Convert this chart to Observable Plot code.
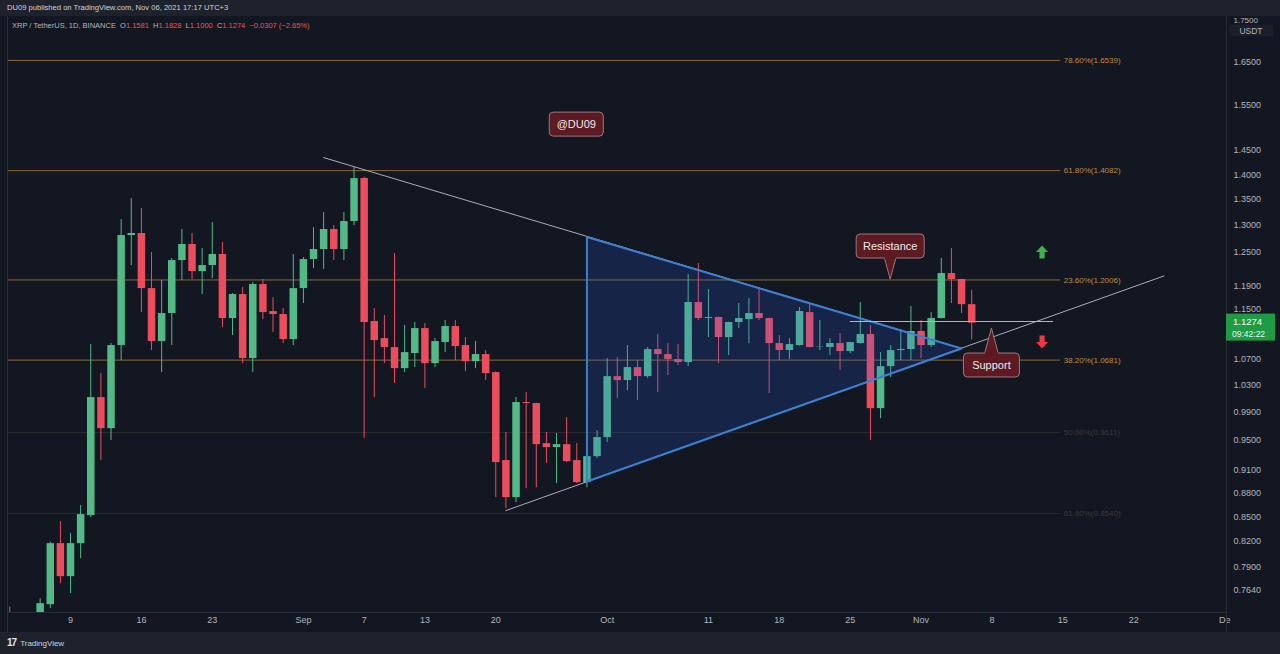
<!DOCTYPE html>
<html><head><meta charset="utf-8">
<script src="https://cdn.jsdelivr.net/npm/d3@7"></script>
<script src="https://cdn.jsdelivr.net/npm/@observablehq/plot@0.6"></script>
<style>
html,body{margin:0;padding:0;background:#131722;width:1280px;height:654px;overflow:hidden;font-family:"Liberation Sans",Arial,sans-serif;}
#page{position:relative;width:1280px;height:654px;background:#131722;}
#top{position:absolute;left:0;top:0;width:1280px;height:16px;background:#1e222d;color:#d1d4dc;font-size:7.6px;line-height:16px;padding-left:7px;box-sizing:border-box;white-space:nowrap;}
#chart{position:absolute;left:0;top:16px;}
#legend{position:absolute;left:12px;top:21px;font-size:7.5px;color:#b2b5be;white-space:nowrap;}
#legend .v{color:#ef5350;}
#foot{position:absolute;left:0;top:632px;width:1280px;height:22px;background:#1e222d;color:#d1d4dc;font-size:8px;line-height:22px;}
#foot b{font-size:10px;letter-spacing:-1px;margin-left:7px;margin-right:4px;color:#e0e3eb;}
#border{position:absolute;left:7px;top:16px;width:1px;height:616px;background:#2a2e39;}
</style></head>
<body><div id="page">
<div id="top">DU09 published on TradingView.com, Nov 06, 2021 17:17 UTC+3</div>
<div id="chart"></div>
<div id="border"></div>
<div id="legend"></div>
<div id="foot"><b>17</b>TradingView</div>
</div>
<script>
const dates = [
"2021-08-03","2021-08-04","2021-08-05","2021-08-06","2021-08-07","2021-08-08","2021-08-09","2021-08-10","2021-08-11","2021-08-12","2021-08-13","2021-08-14","2021-08-15","2021-08-16","2021-08-17","2021-08-18","2021-08-19","2021-08-20","2021-08-21","2021-08-22","2021-08-23","2021-08-24","2021-08-25","2021-08-26","2021-08-27","2021-08-28","2021-08-29","2021-08-30","2021-08-31",
"2021-09-01","2021-09-02","2021-09-03","2021-09-04","2021-09-05","2021-09-06","2021-09-07","2021-09-08","2021-09-09","2021-09-10","2021-09-11","2021-09-12","2021-09-13","2021-09-14","2021-09-15","2021-09-16","2021-09-17","2021-09-18","2021-09-19","2021-09-20","2021-09-21","2021-09-22","2021-09-23","2021-09-24","2021-09-25","2021-09-26","2021-09-27","2021-09-28","2021-09-29","2021-09-30",
"2021-10-01","2021-10-02","2021-10-03","2021-10-04","2021-10-05","2021-10-06","2021-10-07","2021-10-08","2021-10-09","2021-10-10","2021-10-11","2021-10-12","2021-10-13","2021-10-14","2021-10-15","2021-10-16","2021-10-17","2021-10-18","2021-10-19","2021-10-20","2021-10-21","2021-10-22","2021-10-23","2021-10-24","2021-10-25","2021-10-26","2021-10-27","2021-10-28","2021-10-29","2021-10-30","2021-10-31",
"2021-11-01","2021-11-02","2021-11-03","2021-11-04","2021-11-05","2021-11-06"];
const open = [
0.7280,0.7120,0.7250,0.7300,0.7476,0.8172,0.7788,0.8172,0.8513,1.0113,0.9665,1.0910,1.2810,1.2848,1.1856,1.0974,1.1432,1.2351,1.2643,1.2154,1.2261,1.2460,1.1349,1.1753,1.0705,1.1926,1.1465,1.1415,1.1006,
1.1856,1.2369,1.2551,1.2923,1.2551,1.3074,1.3919,1.1299,1.1022,1.0878,1.0549,1.0784,1.1184,1.0627,1.0958,1.1217,1.0910,1.0658,1.0768,1.0488,0.9225,0.8740,1.0040,1.0025,0.9456,0.9401,0.9442,0.9225,0.8933,0.9278,
0.9539,1.0427,1.0367,1.0565,1.0427,1.0847,1.0768,1.0690,1.0643,1.1617,1.1349,1.1366,1.1038,1.1283,1.1332,1.1432,1.1349,1.0942,1.0831,1.0910,1.1448,1.0890,1.0879,1.0942,1.0815,1.0942,1.1087,0.9951,1.0580,1.0831,1.0847,
1.1136,1.0910,1.1349,1.2119,1.2014,1.1581];
const high = [
0.7450,0.7360,0.7380,0.7540,0.8190,0.8439,0.8292,0.8638,1.0926,1.0473,1.0942,1.3111,1.3519,1.3323,1.2496,1.1996,1.2387,1.2923,1.2848,1.2570,1.3055,1.2680,1.1770,1.1874,1.1961,1.2014,1.1702,1.1516,1.2460,
1.2405,1.2959,1.3247,1.2998,1.3247,1.4146,1.3950,1.1516,1.1398,1.2478,1.1233,1.1283,1.1266,1.1022,1.1316,1.1316,1.1038,1.0974,1.0831,1.0500,0.9610,1.0113,1.0187,1.0030,0.9610,0.9596,0.9822,0.9456,0.9951,0.9638,
1.0705,1.0721,1.0910,1.0674,1.0878,1.1087,1.0942,1.0926,1.2101,1.2297,1.1839,1.1380,1.1290,1.1600,1.1685,1.1874,1.1355,1.1071,1.1022,1.1533,1.1600,1.1316,1.1022,1.1103,1.0965,1.1617,1.1233,1.0799,1.0910,1.1168,1.1550,
1.1316,1.1448,1.2387,1.2568,1.2020,1.1828];
const low = [
0.7050,0.7000,0.7050,0.7200,0.7432,0.7709,0.7598,0.7995,0.8488,0.9225,0.9498,1.0674,1.2261,1.1448,1.0831,1.0488,1.0910,1.1996,1.2014,1.1753,1.2031,1.1201,1.1071,1.0627,1.0488,1.1332,1.1120,1.0942,1.0910,
1.1600,1.2207,1.2189,1.2351,1.2351,1.2998,0.9526,1.0113,1.0627,1.0322,1.0488,1.0565,1.0246,1.0565,1.0799,1.0674,1.0504,1.0549,1.0367,0.8740,0.8600,0.8677,0.8854,0.8867,0.9185,0.8920,0.9198,0.8920,0.8867,0.9250,
0.9470,1.0098,1.0217,1.0069,1.0397,1.0187,1.0443,1.0596,1.0580,1.1316,1.1038,1.0627,1.0752,1.1184,1.0942,1.1316,1.0172,1.0674,1.0690,1.0900,1.0870,1.0831,1.0752,1.0519,1.0783,1.0935,0.9498,0.9807,1.0412,1.0674,1.0674,
1.0705,1.0879,1.1340,1.1600,1.1432,1.1000];
const close = [
0.7120,0.7250,0.7300,0.7487,0.8172,0.7788,0.8172,0.8526,1.0113,0.9665,1.0910,1.2810,1.2848,1.1856,1.0974,1.1432,1.2351,1.2643,1.2154,1.2261,1.2460,1.1349,1.1753,1.0705,1.1926,1.1448,1.1415,1.1006,1.1856,
1.2369,1.2551,1.2923,1.2551,1.3074,1.3919,1.1283,1.0990,1.0878,1.0549,1.0799,1.1184,1.0627,1.0974,1.1217,1.0894,1.0658,1.0768,1.0473,0.9198,0.8740,1.0040,1.0025,0.9442,0.9401,0.9442,0.9211,0.8933,0.9278,0.9539,
1.0427,1.0367,1.0565,1.0427,1.0847,1.0768,1.0690,1.0643,1.1617,1.1349,1.1366,1.1038,1.1283,1.1349,1.1432,1.1349,1.0942,1.0831,1.0926,1.1465,1.0879,1.0895,1.0942,1.0815,1.0958,1.1087,0.9951,1.0580,1.0831,1.0847,1.1136,
1.0910,1.1349,1.2119,1.2014,1.1581,1.1274];

const fibLevels = [1.6539, 1.4082, 1.2006, 1.0681];
const fibLabels = ["78.60%(1.6539)", "61.80%(1.4082)", "23.60%(1.2006)", "38.20%(1.0681)"];
const fibFaintLevels = [0.9611, 0.8540];
const fibFaintLabels = ["50.00%(0.9611)", "61.80%(0.8540)"];
const fibStart = "2021-08-02T21:00Z";
const fibEnd = "2021-11-14T19:00Z";

const yTicks = [1.65, 1.55, 1.45, 1.40, 1.35, 1.30, 1.25, 1.19, 1.15, 1.07, 1.03, 0.99, 0.95, 0.91, 0.88, 0.85, 0.82, 0.79, 0.764];
const yTopTick = [1.75];
const xTickDates = ["2021-08-09","2021-08-16","2021-08-23","2021-09-01","2021-09-07","2021-09-13","2021-09-20","2021-10-01","2021-10-11","2021-10-18","2021-10-25","2021-11-01","2021-11-08","2021-11-15","2021-11-22","2021-12-01"];
const xTickLabels = ["9","16","23","Sep","7","13","20","Oct","11","18","25","Nov","8","15","22","De"];

const upperLineDates = ["2021-09-03", "2021-11-05"];
const upperLinePrices = [1.4353, 1.0863];
const lowerLineDates = ["2021-09-21", "2021-11-25"];
const lowerLinePrices = [0.8576, 1.2077];
const triangleDates = ["2021-09-29", "2021-11-05", "2021-09-29"];
const trianglePrices = [1.2782, 1.0863, 0.8948];
const levelLineDates = ["2021-10-25", "2021-11-14"];
const levelLinePrice = 1.1300;

const calloutTexts = ["@DU09", "Resistance", "Support"];
const calloutDates = ["2021-09-28", "2021-10-29", "2021-11-08"];
const calloutPrices = [1.506, 1.2014, 1.1185];
const calloutPointers = ["none", "down", "up"];
const calloutWidths = [54, 68, 56];

const arrowDates = ["2021-11-13", "2021-11-13"];
const arrowPrices = [1.2497, 1.0958];
const arrowDirs = ["up", "down"];

const lastPrice = 1.1274;
const countdown = "09:42:22";
const legendParts = [["O","1.1581"],["H","1.1828"],["L","1.1000"],["C","1.1274"],["","−0.0307 (−2.65%)"]];

const GREEN = "#53b987", RED = "#eb4d5c";
const candles = dates.map((d, i) => ({date: new Date(d), open: open[i], high: high[i], low: low[i], close: close[i]}));
const xDomain = [new Date("2021-08-02T21:00Z"), new Date("2021-12-01T04:00Z")];
const yDomain = [0.7391, 1.7633];
const col = d => d.close >= d.open ? GREEN : RED;

const fibs = fibLevels.map((v, i) => ({v, label: fibLabels[i], x1: new Date(fibStart), x2: new Date(fibEnd)}));
const faint = fibFaintLevels.map((v, i) => ({v, label: fibFaintLabels[i], x1: new Date(fibStart), x2: new Date(fibEnd)}));
const upper = upperLineDates.map((d, i) => ({date: new Date(d), p: upperLinePrices[i]}));
const lower = lowerLineDates.map((d, i) => ({date: new Date(d), p: lowerLinePrices[i]}));
const tri = triangleDates.map((d, i) => ({date: new Date(d), p: trianglePrices[i]}));
const lvl = levelLineDates.map(d => ({date: new Date(d), p: levelLinePrice}));
const labelMap = new Map(xTickDates.map((d, i) => [+new Date(d), xTickLabels[i]]));

const chart = Plot.plot({
  width: 1280, height: 616,
  marginLeft: 8, marginRight: 54, marginTop: 0, marginBottom: 20,
  style: {background: "transparent", color: "#b2b5be", fontFamily: "Liberation Sans, Arial, sans-serif", fontSize: "9px"},
  x: {type: "utc", domain: xDomain, axis: null},
  y: {type: "log", domain: yDomain, axis: null},
  color: {type: "identity"},
  marks: [
    Plot.ruleY(faint, {y: "v", x1: "x1", x2: "x2", stroke: "#2c2b2d", strokeWidth: 1}),
    Plot.text(faint, {y: "v", x: "x2", text: "label", textAnchor: "start", dx: 3, fill: "#3b3a3c", fontSize: 8}),
    Plot.ruleY(fibs, {y: "v", x1: "x1", x2: "x2", stroke: "#8b6a35", strokeWidth: 1}),
    Plot.text(fibs, {y: "v", x: "x2", text: "label", textAnchor: "start", dx: 3, fill: "#c08a3e", fontSize: 8}),
    Plot.ruleX(candles, {x: "date", y1: "low", y2: "high", stroke: col, strokeWidth: 1, clip: true}),
    Plot.ruleX(candles, {x: "date", y1: "open", y2: "close", stroke: col, strokeWidth: 7.5, clip: true}),
    Plot.line(upper, {x: "date", y: "p", stroke: "#a9adb8", strokeWidth: 1}),
    Plot.line(lower, {x: "date", y: "p", stroke: "#a9adb8", strokeWidth: 1}),
    Plot.line(tri, {x: "date", y: "p", fill: "#2962ff", fillOpacity: 0.17, stroke: "none", curve: "linear-closed"}),
    Plot.line(tri, {x: "date", y: "p", stroke: "#3c7fcf", strokeWidth: 2, curve: "linear-closed"}),
    Plot.line(lvl, {x: "date", y: "p", stroke: "#b2b5be", strokeWidth: 1}),
    Plot.axisY(yTicks, {anchor: "right", tickSize: 0, tickPadding: 7, tickFormat: d => d.toFixed(4), fill: "#b2b5be", fontSize: 9}),
    Plot.axisY(yTopTick, {anchor: "right", tickSize: 0, tickPadding: 7, dy: -1, tickFormat: d => d.toFixed(4), fill: "#b2b5be", fontSize: 8}),
    Plot.axisX(xTickDates.map(d => new Date(d)), {anchor: "bottom", tickSize: 0, tickPadding: 4, tickFormat: d => labelMap.get(+d), fill: "#b2b5be", fontSize: 9})
  ]
});
document.getElementById("chart").appendChild(chart);

const svg = d3.select(chart);
const sx = chart.scale("x"), sy = chart.scale("y");
const W = 1280, H = 616, plotRight = W - 54, plotBottom = H - 20;
svg.append("line").attr("x1", 8).attr("x2", plotRight).attr("y1", plotBottom + 0.5).attr("y2", plotBottom + 0.5).attr("stroke", "#2a2e39");
svg.append("line").attr("x1", plotRight + 0.5).attr("x2", plotRight + 0.5).attr("y1", 0).attr("y2", H).attr("stroke", "#2a2e39");

const ann = svg.append("g").attr("font-family", "Liberation Sans, Arial, sans-serif").attr("font-size", 11);
calloutTexts.forEach((t, i) => {
  const x = sx.apply(new Date(calloutDates[i])), y = sy.apply(calloutPrices[i]);
  const w = calloutWidths[i], h = 24;
  let cy = y;
  if (calloutPointers[i] === "down") cy = y - 33;
  if (calloutPointers[i] === "up") cy = y + 37;
  const fill = "#5c1a22", stroke = "#a0767b";
  if (calloutPointers[i] === "down") {
    ann.append("path").attr("d", `M${x - 6},${cy + h / 2 - 1} L${x},${y} L${x + 6},${cy + h / 2 - 1}`).attr("fill", fill).attr("stroke", stroke);
  }
  if (calloutPointers[i] === "up") {
    ann.append("path").attr("d", `M${x - 7},${cy - h / 2 + 1} L${x},${y} L${x + 7},${cy - h / 2 + 1}`).attr("fill", fill).attr("stroke", stroke);
  }
  ann.append("rect").attr("x", x - w / 2).attr("y", cy - h / 2).attr("width", w).attr("height", h).attr("rx", 4)
    .attr("fill", fill).attr("stroke", stroke).attr("stroke-width", 1);
  if (calloutPointers[i] === "down") ann.append("rect").attr("x", x - 5.5).attr("y", cy + h / 2 - 2).attr("width", 11).attr("height", 3).attr("fill", fill);
  if (calloutPointers[i] === "up") ann.append("rect").attr("x", x - 6.5).attr("y", cy - h / 2 - 1).attr("width", 13).attr("height", 3).attr("fill", fill);
  ann.append("text").attr("x", x).attr("y", cy).attr("dy", "0.36em").attr("text-anchor", "middle").attr("fill", "#f2e9ea").text(t);
});

arrowDates.forEach((d, i) => {
  const cx = sx.apply(new Date(d)), cy = sy.apply(arrowPrices[i]);
  const dir = arrowDirs[i] === "up" ? -1 : 1, h = 6.5, hw = 6, sw = 2.6;
  const tip = cy + dir * h, end = cy - dir * h;
  svg.append("path").attr("d", `M${cx},${tip} L${cx + hw},${cy} L${cx + sw},${cy} L${cx + sw},${end} L${cx - sw},${end} L${cx - sw},${cy} L${cx - hw},${cy} Z`)
    .attr("fill", arrowDirs[i] === "up" ? "#3cb44b" : "#f23645");
});

const py = sy.apply(lastPrice);
const pl = svg.append("g").attr("font-family", "Liberation Sans, Arial, sans-serif").attr("text-anchor", "start");
pl.append("rect").attr("x", plotRight).attr("y", py - 9).attr("width", 49).attr("height", 27).attr("fill", "#1f9a45");
pl.append("text").attr("x", plotRight + 7).attr("y", py - 1).attr("dy", "0.36em").attr("fill", "#ffffff").attr("font-size", 9.5).text(lastPrice.toFixed(4));
pl.append("text").attr("x", plotRight + 6).attr("y", py + 11).attr("dy", "0.36em").attr("fill", "#e8f5ea").attr("font-size", 8.5).text(countdown);

const ub = svg.append("g").attr("font-family", "Liberation Sans, Arial, sans-serif");
ub.append("rect").attr("x", plotRight + 3).attr("y", 8.5).attr("width", 44).attr("height", 12).attr("rx", 2).attr("fill", "#1b1f2b");
ub.append("text").attr("x", plotRight + 25).attr("y", 14.5).attr("dy", "0.36em").attr("text-anchor", "middle").attr("fill", "#b2b5be").attr("font-size", 8.5).text("USDT");

const lg = document.getElementById("legend");
lg.innerHTML = "XRP / TetherUS, 1D, BINANCE&nbsp;&nbsp;" + legendParts.map(([k, v]) => `${k}<span class="v">${v}</span>`).join("&nbsp;&nbsp;");
</script>
</body></html>
